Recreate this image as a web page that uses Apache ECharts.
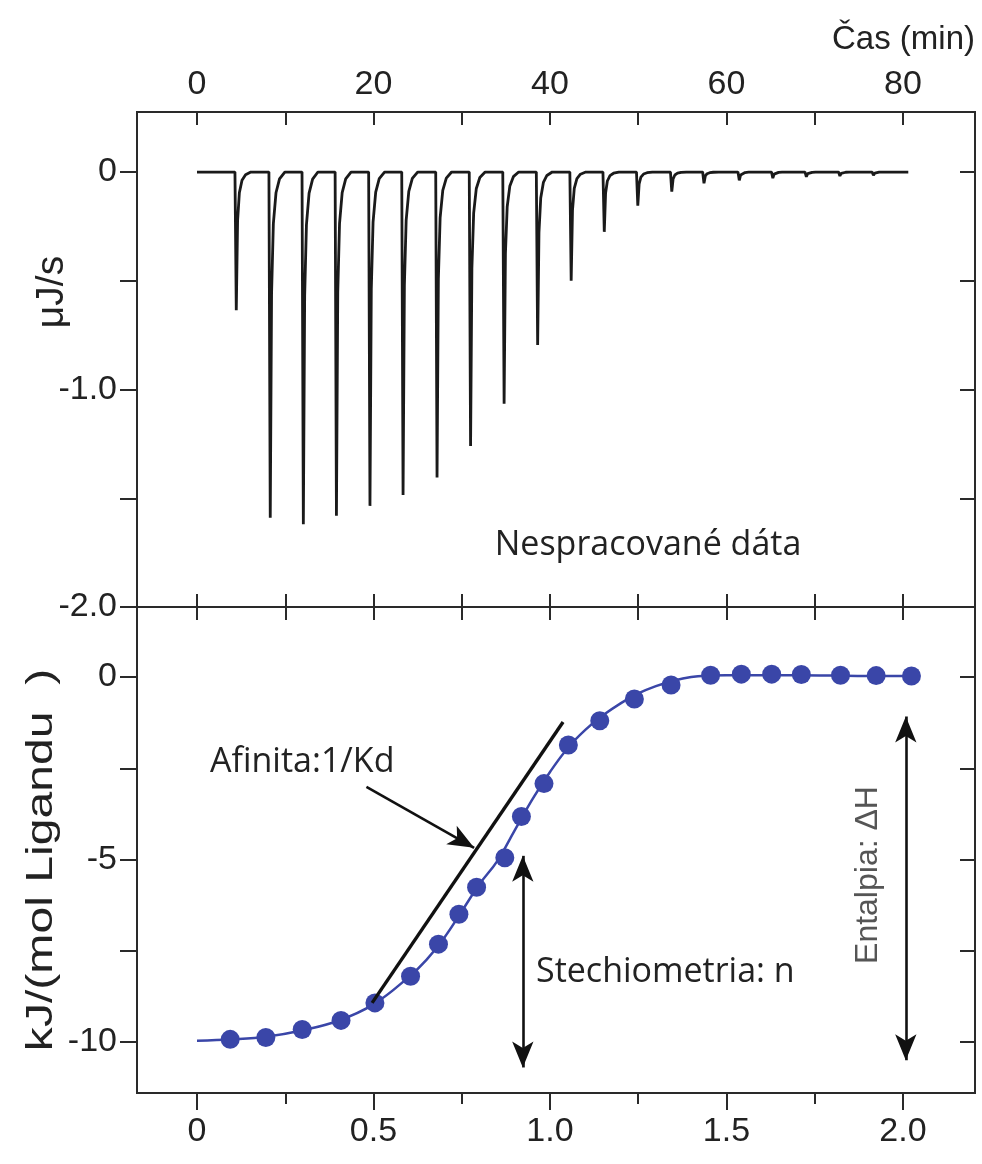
<!DOCTYPE html>
<html><head><meta charset="utf-8">
<script src="https://cdn.jsdelivr.net/npm/echarts@6/dist/echarts.min.js"></script>
<style>html,body{margin:0;padding:0;background:#fff}#c{width:982px;height:1164px}</style>
</head><body><div id="c"></div>
<script>
// ---- raw thermogram (top panel) ----
const injectionTimes = [4.3, 8.15, 11.9, 15.65, 19.45, 23.2, 27.05, 30.85, 34.65, 38.45, 42.25, 46.0, 49.8, 53.65, 57.3, 61.3, 65.1, 68.9, 72.7, 76.5];
const injectionPeaks = [-0.635, -1.59, -1.62, -1.58, -1.535, -1.485, -1.405, -1.26, -1.065, -0.795, -0.5, -0.275, -0.155, -0.09, -0.052, -0.038, -0.028, -0.022, -0.018, -0.015];
// shape of one injection peak (minutes after injection, fraction of peak depth)
const peakShapeOffsets = [0, 0.15, 0.3, 0.5, 0.8, 1.2, 1.8];
const peakShapeFractions = [0, 1, 0.35, 0.15, 0.06, 0.02, 0];
const baselineStart = 0;
const baselineEnd = 80.6;

// ---- integrated heats (bottom panel) ----
const molarRatio = [0.094, 0.195, 0.298, 0.408, 0.504, 0.605, 0.684, 0.742, 0.792, 0.872, 0.919, 0.983, 1.052, 1.141, 1.239, 1.343, 1.455, 1.542, 1.628, 1.712, 1.823, 1.924, 2.024];
const heatPerMol = [-9.93, -9.88, -9.66, -9.41, -8.93, -8.2, -7.32, -6.5, -5.76, -4.95, -3.82, -2.92, -1.86, -1.2, -0.6, -0.22, 0.05, 0.08, 0.08, 0.07, 0.05, 0.04, 0.03];
const fitRatio = [0, 0.1, 0.2, 0.3, 0.4, 0.5, 0.6, 0.65, 0.7, 0.75, 0.8, 0.85, 0.9, 0.95, 1.0, 1.05, 1.1, 1.15, 1.2, 1.25, 1.3, 1.35, 1.4, 1.45, 1.5, 1.6, 1.7, 1.8, 1.9, 2.03];
const fitHeat = [-9.97, -9.93, -9.85, -9.68, -9.42, -8.97, -8.22, -7.75, -7.15, -6.42, -5.68, -5.05, -4.2, -3.35, -2.6, -1.95, -1.45, -1.05, -0.72, -0.45, -0.25, -0.1, 0.0, 0.04, 0.05, 0.05, 0.05, 0.04, 0.03, 0.03];
const tangentRatio = [0.496, 1.037];
const tangentHeat = [-8.93, -1.23];
const affinityArrow = [[0.48, -3.01], [0.785, -4.68]];
const stoichArrow = [[0.923, -4.9], [0.923, -10.7]];
const enthalpyArrow = [[2.008, -1.08], [2.008, -10.5]];

// ---- ticks / labels ----
const timeTicks = [0, 10, 20, 30, 40, 50, 60, 70, 80];
const timeLabels = [0, 20, 40, 60, 80];
const rawTicks = [0, -0.5, -1, -1.5, -2];
const rawLabels = [0, -1, -2];
const ratioTicks = [0, 0.25, 0.5, 0.75, 1, 1.25, 1.5, 1.75, 2];
const ratioMajor = [0, 0.5, 1, 1.5, 2];
const ratioMinor = [0.25, 0.75, 1.25, 1.75];
const heatTicks = [0, -2.5, -5, -7.5, -10];
const heatLabels = [0, -5, -10];

// build the trace polyline from the read values
const trace = [[baselineStart, 0]];
injectionTimes.forEach((t, i) => {
  peakShapeOffsets.forEach((o, k) => trace.push([t + o, injectionPeaks[i] * peakShapeFractions[k]]));
});
trace.push([baselineEnd, 0]);

const AX = '#2a2a2a';
const tickFont = { fontFamily: 'Liberation Sans', fontSize: 34, color: '#222' };
function ticks(vals, inside, len) {
  return { show: true, inside: inside, length: len, customValues: vals, lineStyle: { color: AX, width: 2 } };
}
function labels(vals, margin, fmt) {
  return Object.assign({ show: true, customValues: vals, margin: margin, formatter: fmt }, tickFont);
}
const noLabel = { show: false };
const noLine = { show: false, onZero: false };
const fmtOne = v => (v === 0 ? '0' : Number(v).toFixed(1));
const fmtInt = v => String(v);

const TIME = { min: -6.8, max: 88.16 };
const RATIO = { min: -0.17, max: 2.204 };

const option = {
  animation: false,
  backgroundColor: '#fff',
  grid: [
    { left: 137, right: 7, top: 112, height: 495, show: true, borderColor: AX, borderWidth: 2 },
    { left: 137, right: 7, top: 607, height: 486, show: true, borderColor: AX, borderWidth: 2 }
  ],
  xAxis: [
    Object.assign({ type: 'value', gridIndex: 0, position: 'top', axisLine: noLine, splitLine: { show: false },
      axisTick: ticks(timeTicks, true, 13), axisLabel: labels(timeLabels, 10, fmtInt) }, TIME),
    Object.assign({ type: 'value', gridIndex: 0, position: 'bottom', axisLine: noLine, splitLine: { show: false },
      axisTick: ticks(timeTicks, true, 13), axisLabel: noLabel }, TIME),
    Object.assign({ type: 'value', gridIndex: 1, position: 'bottom', axisLine: noLine, splitLine: { show: false },
      axisTick: ticks(ratioMajor, false, 17), axisLabel: labels(ratioMajor, 22, fmtOne) }, RATIO),
    Object.assign({ type: 'value', gridIndex: 1, position: 'bottom', axisLine: noLine, splitLine: { show: false },
      axisTick: ticks(ratioMinor, false, 11), axisLabel: noLabel }, RATIO),
    Object.assign({ type: 'value', gridIndex: 1, position: 'top', axisLine: noLine, splitLine: { show: false },
      axisTick: ticks(ratioTicks, true, 13), axisLabel: noLabel }, RATIO)
  ],
  yAxis: [
    { type: 'value', gridIndex: 0, position: 'left', min: -2, max: 0.276, axisLine: noLine, splitLine: { show: false },
      axisTick: ticks(rawTicks, false, 17), axisLabel: labels(rawLabels, 20, fmtOne) },
    { type: 'value', gridIndex: 0, position: 'right', min: -2, max: 0.276, axisLine: noLine, splitLine: { show: false },
      axisTick: ticks(rawTicks, true, 15), axisLabel: noLabel },
    { type: 'value', gridIndex: 1, position: 'left', min: -11.4, max: 1.92, axisLine: noLine, splitLine: { show: false },
      axisTick: ticks(heatTicks, false, 17), axisLabel: labels(heatLabels, 20, fmtInt) },
    { type: 'value', gridIndex: 1, position: 'right', min: -11.4, max: 1.92, axisLine: noLine, splitLine: { show: false },
      axisTick: ticks(heatTicks, true, 15), axisLabel: noLabel }
  ],
  series: [
    { type: 'line', name: 'raw', xAxisIndex: 0, yAxisIndex: 0, data: trace, showSymbol: false, symbol: 'none',
      lineStyle: { color: '#1a1a1a', width: 2.8 }, z: 3 },
    { type: 'line', name: 'fit', xAxisIndex: 2, yAxisIndex: 2, data: fitRatio.map((x, i) => [x, fitHeat[i]]),
      smooth: 0.4, showSymbol: false, symbol: 'none', lineStyle: { color: '#3a46a8', width: 2.5 }, z: 3 },
    { type: 'scatter', name: 'heat', xAxisIndex: 2, yAxisIndex: 2, data: molarRatio.map((x, i) => [x, heatPerMol[i]]),
      symbolSize: 19, itemStyle: { color: '#3a46a8', opacity: 1 }, z: 4 },
    { type: 'line', name: 'tangent', xAxisIndex: 2, yAxisIndex: 2, data: tangentRatio.map((x, i) => [x, tangentHeat[i]]),
      showSymbol: false, symbol: 'none', lineStyle: { color: '#111', width: 3.4 }, z: 5,
      markLine: {
        silent: true, animation: false, label: { show: false },
        lineStyle: { color: '#111', width: 2.6, type: 'solid' },
        symbolSize: [16, 26],
        data: [
          [{ coord: affinityArrow[0], symbol: 'none' }, { coord: affinityArrow[1], symbol: 'arrow' }],
          [{ coord: stoichArrow[0], symbol: 'arrow' }, { coord: stoichArrow[1], symbol: 'arrow' }],
          [{ coord: enthalpyArrow[0], symbol: 'arrow' }, { coord: enthalpyArrow[1], symbol: 'arrow' }]
        ]
      }
    }
  ],
  graphic: [
    { type: 'text', x: 975, y: 40, style: { text: 'Čas (min)', font: '33px "Liberation Sans"', fill: '#222', align: 'right', verticalAlign: 'middle' } },
    { type: 'text', x: 52, y: 292, rotation: Math.PI / 2, style: { text: 'μJ/s', font: '39px "Liberation Sans"', fill: '#222', align: 'center', verticalAlign: 'middle' } },
    { type: 'text', x: 42, y: 860, rotation: Math.PI / 2, scaleX: 1.3, style: { text: 'kJ/(mol Ligandu  )', font: '37px "Liberation Sans"', fill: '#222', align: 'center', verticalAlign: 'middle' } },
    { type: 'text', x: 648, y: 545, style: { text: 'Nespracované dáta', font: '34px "Open Sans"', fill: '#222', align: 'center', verticalAlign: 'middle' } },
    { type: 'text', x: 210, y: 762, style: { text: 'Afinita:1/Kd', font: '34px "Open Sans"', fill: '#222', align: 'left', verticalAlign: 'middle' } },
    { type: 'text', x: 536, y: 972, style: { text: 'Stechiometria: n', font: '34px "Open Sans"', fill: '#222', align: 'left', verticalAlign: 'middle' } },
    { type: 'text', x: 868, y: 875, rotation: Math.PI / 2, style: { text: 'Entalpia: ΔH', font: '32px "Liberation Sans"', fill: '#555', align: 'center', verticalAlign: 'middle' } }
  ]
};
echarts.init(document.getElementById('c'), null, { renderer: 'canvas' }).setOption(option);
</script></body></html>
